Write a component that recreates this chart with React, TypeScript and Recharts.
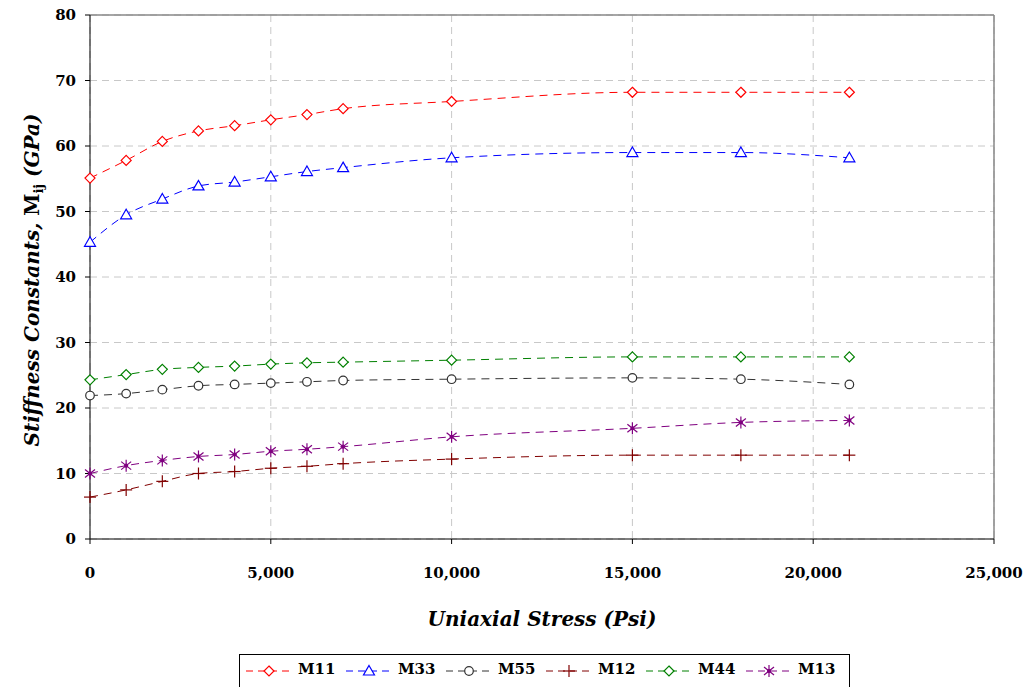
import React from 'react';
import { LineChart, Line, XAxis, YAxis, CartesianGrid, ReferenceLine } from 'recharts';

const stress = [0, 1000, 2000, 3000, 4000, 5000, 6000, 7000, 10000, 15000, 18000, 21000];
const m11 = [55.1, 57.8, 60.7, 62.3, 63.1, 64.0, 64.8, 65.7, 66.8, 68.2, 68.2, 68.2];
const m33 = [45.3, 49.5, 51.9, 53.9, 54.5, 55.3, 56.1, 56.7, 58.2, 59.0, 59.0, 58.2];
const m55 = [21.9, 22.2, 22.8, 23.4, 23.6, 23.8, 24.0, 24.2, 24.4, 24.6, 24.4, 23.6];
const m12 = [6.4, 7.5, 8.8, 10.0, 10.3, 10.8, 11.1, 11.5, 12.2, 12.8, 12.8, 12.8];
const m44 = [24.3, 25.1, 25.9, 26.2, 26.4, 26.7, 26.9, 27.0, 27.3, 27.8, 27.8, 27.8];
const m13 = [10.0, 11.2, 12.0, 12.6, 12.9, 13.4, 13.7, 14.1, 15.6, 16.9, 17.8, 18.1];

const xTicks = [0, 5000, 10000, 15000, 20000, 25000];
const yTicks = [0, 10, 20, 30, 40, 50, 60, 70, 80];

type Shape = 'diamond' | 'triangle' | 'circle' | 'plus' | 'star';

const series: { key: string; name: string; color: string; shape: Shape }[] = [
  { key: 'm11', name: 'M11', color: '#ff0000', shape: 'diamond' },
  { key: 'm33', name: 'M33', color: '#0000ff', shape: 'triangle' },
  { key: 'm55', name: 'M55', color: '#333333', shape: 'circle' },
  { key: 'm12', name: 'M12', color: '#800000', shape: 'plus' },
  { key: 'm44', name: 'M44', color: '#008000', shape: 'diamond' },
  { key: 'm13', name: 'M13', color: '#800080', shape: 'star' },
];

const data = stress.map((x, i) => ({
  x,
  m11: m11[i],
  m33: m33[i],
  m55: m55[i],
  m12: m12[i],
  m44: m44[i],
  m13: m13[i],
}));

const serif = '"DejaVu Serif", "Liberation Serif", serif';
const tickStyle = { fontFamily: serif, fontWeight: 'bold', fontSize: 15, fill: '#000' };

function Marker({ cx, cy, shape, color }: { cx: number; cy: number; shape: Shape; color: string }) {
  const common = { fill: 'none', stroke: color, strokeWidth: 1.2 };
  switch (shape) {
    case 'diamond':
      return <polygon points={`${cx},${cy - 5} ${cx + 5},${cy} ${cx},${cy + 5} ${cx - 5},${cy}`} {...common} fill="#fff" />;
    case 'triangle':
      return <polygon points={`${cx},${cy - 5.5} ${cx + 5.5},${cy + 4} ${cx - 5.5},${cy + 4}`} {...common} fill="#fff" />;
    case 'circle':
      return <circle cx={cx} cy={cy} r={4.3} {...common} fill="#fff" />;
    case 'plus':
      return (
        <g {...common}>
          <line x1={cx - 6} y1={cy} x2={cx + 6} y2={cy} />
          <line x1={cx} y1={cy - 6} x2={cx} y2={cy + 6} />
        </g>
      );
    case 'star':
      return (
        <g {...common}>
          <line x1={cx} y1={cy - 6} x2={cx} y2={cy + 6} />
          <line x1={cx - 5} y1={cy - 4} x2={cx + 5} y2={cy + 4} />
          <line x1={cx - 5} y1={cy + 4} x2={cx + 5} y2={cy - 4} />
          <circle cx={cx} cy={cy} r={1.5} fill={color} />
        </g>
      );
  }
}

function XTitle({ viewBox }: any) {
  const { x, y, width } = viewBox;
  return (
    <text x={x + width / 2} y={y + 87} textAnchor="middle" fontFamily={serif} fontStyle="italic" fontWeight="bold" fontSize={20}>
      Uniaxial Stress (Psi)
    </text>
  );
}

function YTitle({ viewBox }: any) {
  const { y, height } = viewBox;
  const cx = 39;
  const cy = y + height / 2 + 3;
  return (
    <text x={cx} y={cy} transform={`rotate(-90 ${cx} ${cy})`} textAnchor="middle" fontFamily={serif} fontWeight="bold" fontSize={20}>
      <tspan fontStyle="italic">Stiffness Constants, </tspan>
      <tspan>M</tspan>
      <tspan fontSize={13} dy={4}>ij</tspan>
      <tspan fontStyle="italic" dy={-4}> (GPa)</tspan>
    </text>
  );
}

function LegendBox() {
  return (
    <div
      style={{
        position: 'absolute',
        left: 239,
        top: 654,
        width: 611,
        height: 40,
        border: '1px solid #000',
        boxSizing: 'border-box',
        background: '#fff',
      }}
    >
      {series.map((s, i) => (
        <div key={s.key} style={{ position: 'absolute', left: 5 + i * 100, top: 0, height: 34 }}>
          <svg width={48} height={30} style={{ position: 'absolute', left: 0, top: 2 }}>
            <line x1={1} y1={14} x2={48} y2={14} stroke={s.color} strokeWidth={1} strokeDasharray="7 5" />
            <Marker cx={24} cy={14} shape={s.shape} color={s.color} />
          </svg>
          <span
            style={{
              position: 'absolute',
              left: 53,
              top: 5,
              fontFamily: serif,
              fontWeight: 'bold',
              fontSize: 15,
              color: '#000',
              whiteSpace: 'nowrap',
            }}
          >
            {s.name}
          </span>
        </div>
      ))}
    </div>
  );
}

export default function App() {
  return (
    <div style={{ position: 'absolute', left: 0, top: 0, width: 1024, height: 687, background: '#fff', overflow: 'hidden' }}>
      <LineChart width={1024} height={687} data={data} margin={{ top: 15, right: 30, left: 0, bottom: 0 }}>
        <CartesianGrid stroke="#c8c8c8" strokeDasharray="7 5" />
        <XAxis
          dataKey="x"
          type="number"
          domain={[0, 25000]}
          ticks={xTicks}
          height={148}
          tick={tickStyle}
          tickSize={5}
          tickMargin={23}
          tickFormatter={(v: number) => v.toLocaleString('en-US')}
          axisLine={{ stroke: '#000' }}
          tickLine={{ stroke: '#000' }}
          label={<XTitle />}
        />
        <YAxis
          type="number"
          domain={[0, 80]}
          ticks={yTicks}
          width={90}
          tick={tickStyle}
          tickSize={5}
          tickMargin={9}
          axisLine={{ stroke: '#000' }}
          tickLine={{ stroke: '#000' }}
          label={<YTitle />}
        />
        <ReferenceLine y={80} stroke="#888" strokeWidth={1.5} />
        <ReferenceLine x={25000} stroke="#888" strokeWidth={1.5} />
        {series.map((s) => (
          <Line
            key={s.key}
            type="monotone"
            dataKey={s.key}
            name={s.name}
            stroke={s.color}
            strokeWidth={1}
            strokeDasharray="8 6"
            isAnimationActive={false}
            dot={(p: any) => <Marker key={`${s.key}-${p.index}`} cx={p.cx} cy={p.cy} shape={s.shape} color={s.color} />}
            activeDot={false}
          />
        ))}
      </LineChart>
      <LegendBox />
    </div>
  );
}
